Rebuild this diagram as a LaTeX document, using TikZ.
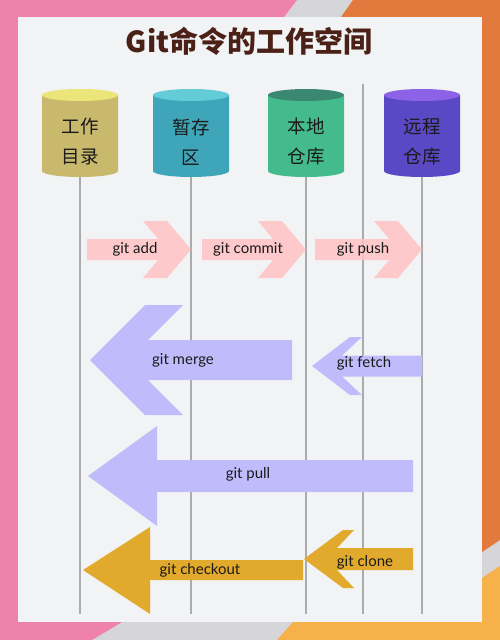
\documentclass[tikz,border=0pt]{standalone}
\usepackage{fontspec}
\setmainfont{Lato}
\newfontfamily\cjk{Noto Sans CJK SC}
\usepackage{tikz}
\definecolor{bgpink}{HTML}{EF82AA}
\definecolor{bgorange}{HTML}{E27A3E}
\definecolor{bglight}{HTML}{F7B14A}
\definecolor{bggray}{HTML}{D6D6D8}
\definecolor{panel}{HTML}{F2F3F5}
\definecolor{titleink}{HTML}{4B2017}
\definecolor{ink}{HTML}{1A1A1A}
\definecolor{lanegray}{HTML}{ABABAD}
\definecolor{wdbody}{HTML}{C9B96C}
\definecolor{wdtop}{HTML}{EBE57A}
\definecolor{idxbody}{HTML}{3FA6BA}
\definecolor{idxtop}{HTML}{63CCD6}
\definecolor{repobody}{HTML}{44BB8C}
\definecolor{repotop}{HTML}{3B8870}
\definecolor{rembody}{HTML}{5A48C4}
\definecolor{remtop}{HTML}{8C62E6}
\definecolor{pinkarr}{HTML}{FFC2C4}
\definecolor{lavarr}{HTML}{C0BCFC}
\definecolor{goldarr}{HTML}{E2AA2C}

\begin{document}
\begin{tikzpicture}[
      x=1pt, y=-1pt,
      cyl/.style 2 args={
        minimum width=76pt, minimum height=88pt, inner sep=0pt, fill=panel,
        path picture={
          \fill[#1] ([yshift=-6pt]path picture bounding box.north west)
            -- ([yshift=6pt]path picture bounding box.south west)
            arc[start angle=180, end angle=360, x radius=38pt, y radius=6pt]
            -- ([yshift=-6pt]path picture bounding box.north east) -- cycle;
          \fill[#2] ([yshift=-6pt]path picture bounding box.north)
            ellipse[x radius=38pt, y radius=6pt];
        }
      },
      cyltext/.style={font=\cjk\fontsize{18.5}{30}\selectfont, align=center, text=ink},
      title/.style={font=\cjk\bfseries\fontsize{29}{33}\selectfont, text=titleink},
      cmd/.style={font=\fontsize{15}{17}\selectfont, text=ink, inner sep=1pt},
      lane/.style={draw=lanegray, line width=2.2pt},
      pushed/.style={fill=pinkarr, fill opacity=.85},
      pulled/.style={fill=lavarr},
      gotten/.style={fill=goldarr}
      ]
  \useasboundingbox (0,0) rectangle (500,640);

  % background bands and panel
  \fill[bggray] (0,0) rectangle (500,640);
  \fill[bgpink] (0,0) -- (297,0) -- (284,17) -- (18,17) -- (18,622) -- (122,622)
    -- (92,640) -- (0,640) -- cycle;
  \fill[bgorange] (353,0) -- (500,0) -- (500,540) -- (482,552) -- (482,17)
    -- (341,17) -- cycle;
  \fill[bglight] (293,622) -- (482,622) -- (482,578) -- (500,566) -- (500,640)
    -- (277,640) -- cycle;
  \fill[panel] (18,17) rectangle (482,622);

  \node[title] (title) at (249,41) {Git命令的工作空间};

  % the four stores
  \node[cyl={wdbody}{wdtop}]     (wd)     at (80,133)  {};
  \node[cyl={idxbody}{idxtop}]   (idx)    at (191,133) {};
  \node[cyl={repobody}{repotop}] (repo)   at (306,133) {};
  \node[cyl={rembody}{remtop}]   (remote) at (422,133) {};
  \node[cyltext] (wd-t)     at ([yshift=-9pt]wd.center)     {工作\\目录};
  \node[cyltext] (idx-t)    at ([yshift=-9pt]idx.center)    {暂存\\区};
  \node[cyltext] (repo-t)   at ([yshift=-9pt]repo.center)   {本地\\仓库};
  \node[cyltext] (remote-t) at ([yshift=-9pt]remote.center) {远程\\仓库};

  \coordinate (floor) at (0,614);
  \coordinate (gap) at (363,84);
  \foreach \c in {wd,idx,repo,remote}
    \draw[lane] (\c.south) -- (\c.south |- floor);
  \draw[lane] (gap) -- (gap |- floor);

  % commands
  \fill[pushed] (87,239) -- (158,239) -- (143,221) -- (167,221) -- (191,249.5)
    -- (167,278) -- (143,278) -- (158,260) -- (87,260) -- cycle;
  \fill[pushed] (202,239) -- (273,239) -- (258,221) -- (282,221) -- (306,249.5)
    -- (282,278) -- (258,278) -- (273,260) -- (202,260) -- cycle;
  \fill[pushed] (315,239) -- (389,239) -- (374,221) -- (398,221) -- (422,249.5)
    -- (398,278) -- (374,278) -- (389,260) -- (315,260) -- cycle;
  \node[cmd] (add)    at (135,249) {git add};
  \node[cmd] (commit) at (248,249) {git commit};
  \node[cmd] (push)   at (363,249) {git push};

  \fill[pulled] (292,340) -- (148,340) -- (183,305) -- (145,305) -- (90,360)
    -- (145,415) -- (183,415) -- (148,380) -- (292,380) -- cycle;
  \fill[pulled] (422,355.5) -- (342,355.5) -- (362,337) -- (350,337) -- (312,366)
    -- (350,395) -- (362,395) -- (342,376.5) -- (422,376.5) -- cycle;
  \fill[pulled] (413,460) -- (157,460) -- (157,426) -- (88,476) -- (157,526)
    -- (157,492) -- (413,492) -- cycle;
  \node[cmd] (merge) at (183,360) {git merge};
  \node[cmd] (fetch) at (364,363) {git fetch};
  \node[cmd] (pull)  at (248,474) {git pull};

  \fill[gotten] (303,560) -- (150,560) -- (150,527) -- (83,570) -- (150,614)
    -- (150,580) -- (303,580) -- cycle;
  \fill[gotten] (413,548) -- (337,548) -- (354,530) -- (343,530) -- (304,559)
    -- (343,588) -- (354,588) -- (337,570) -- (413,570) -- cycle;
  \node[cmd] (checkout) at (200,570) {git checkout};
  \node[cmd] (clone)    at (365,562) {git clone};

\end{tikzpicture}
\end{document}
